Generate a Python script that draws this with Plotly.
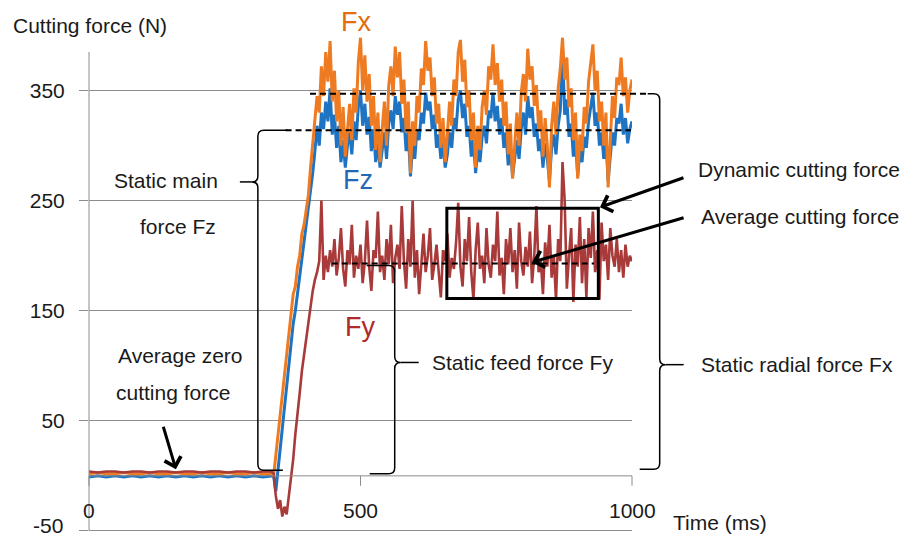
import plotly.graph_objects as go

# ---------------- data ----------------
t_flat = list(range(0, 337, 16))      # ms
t_ramp = list(range(340, 421, 4))     # ms
t_steady = list(range(424, 1001, 4))  # ms

fx_flat = [2, 3, 2, 2, 3, 2, 2, 3, 2, 2, 3, 2, 2, 3, 2, 2, 3, 2, 2, 3, 2, 2]
fz_flat = [-1, 0, -1, 0, -1, 0, -1, 0, -1, 0, -1, 0, -1, 0, -1, 0, -1, 0, -1, 0, -1, 0]
fy_flat = [4, 3, 4, 4, 3, 4, 4, 3, 4, 4, 3, 4, 4, 3, 4, 4, 3, 4, 4, 3, 4, 4]

fx_ramp = [0, 18, 40, 58, 72, 95, 110, 128, 145, 165, 172, 190, 200, 220, 228, 240, 255, 280, 300, 322, 345]
fz_ramp = [0, -14, 5, 25, 45, 60, 80, 100, 120, 138, 150, 165, 185, 200, 215, 225, 240, 255, 275, 295, 318]
fy_ramp = [2, -18, -30, -22, -37, -28, -35, -18, -5, 15, 38, 55, 75, 95, 110, 125, 140, 152, 168, 178, 185]

fx_steady = [
    330, 372, 345, 385, 358, 395,
    340, 368, 322, 350, 300, 335, 290, 318, 338, 305, 352, 330, 376,
    398, 350, 382, 340, 365, 318, 345, 296, 330, 285, 315, 340, 300, 355, 372, 345, 390,
    362, 385, 338, 360, 312, 340, 275, 322, 300, 345, 330, 370, 355, 395,
    368, 380, 345, 362, 320, 338, 298, 325, 285, 310, 340, 318, 360, 345, 385,
    396, 358, 378, 335, 350, 305, 330, 280, 318, 296, 335, 350, 328, 372, 360,
    392, 355, 375, 340, 360, 318, 340, 292, 320, 270, 305, 330, 300, 348, 365, 340,
    388, 360, 372, 336, 355, 315, 332, 290, 325, 300, 262, 318, 340, 310, 352, 370, 398,
    360, 380, 335, 352, 305, 330, 270, 310, 295, 335, 320, 358, 375,
    392, 350, 368, 322, 340, 300, 330, 262, 310, 345, 325, 362, 355,
    380, 345, 362, 330, 350, 360]

fz_steady = [
    300, 330, 315, 340, 322, 352,
    310, 328, 298, 318, 285, 305, 280, 300, 312, 292, 322, 305, 335,
    350, 318, 338, 310, 326, 295, 315, 285, 302, 280, 295, 312, 288, 320, 332, 315, 345,
    328, 340, 312, 325, 295, 312, 272, 300, 288, 315, 305, 330, 320, 348,
    332, 340, 315, 328, 298, 310, 288, 302, 280, 292, 312, 298, 325, 315, 342,
    350, 325, 338, 308, 318, 290, 305, 275, 298, 285, 308, 318, 302, 332, 325,
    348, 322, 336, 310, 325, 298, 312, 282, 300, 272, 290, 305, 288, 315, 330, 310,
    345, 325, 335, 308, 320, 295, 306, 280, 302, 288, 268, 298, 310, 292, 318, 332, 390,
    328, 342, 308, 320, 290, 305, 272, 295, 285, 308, 298, 322, 335,
    348, 318, 330, 300, 312, 288, 305, 268, 292, 312, 300, 325, 320,
    338, 310, 325, 302, 315, 322]

fy_steady = [
    195, 250, 178, 200, 185, 205,
    190, 215, 182, 198, 225, 188, 172, 205, 192, 228, 180, 200, 188,
    210, 175, 195, 232, 190, 168, 205, 198, 240, 185, 200, 178, 215, 192, 228, 175, 198,
    210, 188, 245, 195, 170, 215, 190, 250, 180, 205, 165, 198, 220, 185,
    200, 225, 178, 192, 210, 185, 162, 205, 195, 220, 180, 198, 188, 212, 248,
    190, 172, 215, 195, 235, 185, 160, 205, 230, 188, 200, 175, 225, 192, 180,
    210, 195, 240, 182, 198, 165, 215, 192, 225, 185, 205, 170, 230, 195, 182, 208,
    190, 222, 175, 200, 245, 185, 195, 165, 212, 190, 228, 180, 200, 160, 215, 195, 285,
    250, 170, 200, 225, 158, 210, 190, 235, 175, 215, 162, 225, 198,
    240, 185, 205, 160, 230, 195, 210, 178, 225, 200, 190, 215, 185,
    205, 180, 210, 190, 200, 195]

y_ticks = [-50, 50, 150, 250, 350]
x_ticks = [0, 500, 1000]

fx_mean, fz_mean, fy_mean = 347, 314, 193

# ---------------- layout constants ----------------
X0, X1 = 0, 1000
Y0, Y1 = -51, 405
W, H = 901, 537
ML, MR, MT, MB = 89, 269, 30, 5
PW, PH = W - ML - MR, H - MT - MB
kx = PW / (X1 - X0)
ky = PH / (Y1 - Y0)

def xp(ms):
    return (ms - X0) / (X1 - X0)

def yp(v):
    return (v - Y0) / (Y1 - Y0)

def pxp(px):
    return (px - ML) / PW

def pyp(py):
    return (H - MB - py) / PH

FONT = "Liberation Sans, Arial, sans-serif"
TXT = "#1a1a1a"
GRID = "#8c8c8c"
C_FX, C_FZ, C_FY = "#EE7B22", "#1E73C2", "#A83A3A"

t_all = t_flat + t_ramp + t_steady

fig = go.Figure()
fig.add_trace(go.Scatter(x=t_all, y=fz_flat + fz_ramp + fz_steady, mode="lines",
                         line=dict(color=C_FZ, width=3), name="Fz"))
fig.add_trace(go.Scatter(x=t_all, y=fx_flat + fx_ramp + fx_steady, mode="lines",
                         line=dict(color=C_FX, width=3), name="Fx"))
fig.add_trace(go.Scatter(x=t_all, y=fy_flat + fy_ramp + fy_steady, mode="lines",
                         line=dict(color=C_FY, width=2.6), name="Fy"))

shapes = []
# y axis line
shapes.append(dict(type="line", xref="paper", yref="paper", x0=xp(0), x1=xp(0),
                   y0=yp(-50), y1=yp(385), line=dict(color=GRID, width=1)))
# x axis line at zero and tick marks
shapes.append(dict(type="line", xref="paper", yref="paper", x0=xp(0), x1=xp(1000),
                   y0=yp(0), y1=yp(0), line=dict(color=GRID, width=1)))
for tv in x_ticks:
    shapes.append(dict(type="line", xref="paper", yref="paper", x0=xp(tv), x1=xp(tv),
                       y0=yp(0), y1=yp(-9), line=dict(color=GRID, width=1)))

# dashed mean lines
dash = dict(color="black", width=2, dash="6px,4px")
shapes.append(dict(type="line", xref="paper", yref="paper", x0=xp(407), x1=xp(1033),
                   y0=yp(fx_mean), y1=yp(fx_mean), line=dash))
shapes.append(dict(type="line", xref="paper", yref="paper", x0=xp(362), x1=xp(998),
                   y0=yp(fz_mean), y1=yp(fz_mean), line=dash))
shapes.append(dict(type="line", xref="paper", yref="paper", x0=xp(447), x1=xp(930),
                   y0=yp(fy_mean), y1=yp(fy_mean), line=dash))


def brace(xv, vt, vb, vm, d, l_top, l_bot, stub, r=6):
    """curly brace, vertical at ms xv, tip direction d (-1 left, +1 right)"""
    e = -d
    rx, ry = r / kx, r / ky
    def P(x, y):
        return f"{xp(x):.5f},{yp(y):.5f}"
    p = (f"M{P(xv + e*l_top/kx, vt)} L{P(xv + e*rx, vt)} "
         f"Q{P(xv, vt)} {P(xv, vt - ry)} L{P(xv, vm + ry)} "
         f"Q{P(xv, vm)} {P(xv + d*rx, vm)} Q{P(xv, vm)} {P(xv, vm - ry)} "
         f"L{P(xv, vb + ry)} Q{P(xv, vb)} {P(xv + e*rx, vb)} L{P(xv + e*l_bot/kx, vb)}")
    shapes.append(dict(type="path", xref="paper", yref="paper", path=p,
                       line=dict(color="black", width=1.5)))
    shapes.append(dict(type="line", xref="paper", yref="paper",
                       x0=xp(xv + d*rx), x1=xp(xv + d*(rx + stub/kx)),
                       y0=yp(vm), y1=yp(vm), line=dict(color="black", width=1.5)))

brace(311, fz_mean, 5, 267, -1, 30, 25, 12)
brace(563, 191, 2, 103, +1, 28, 25, 18)
brace(1051, fx_mean, 6, 101, +1, 12, 20, 18)

# dynamic force box
shapes.append(dict(type="rect", xref="paper", yref="paper", x0=xp(659), x1=xp(938),
                   y0=yp(161), y1=yp(243), line=dict(color="black", width=3)))

annotations = []

def text(s, px, py, size=21, color=TXT, xanchor="center"):
    annotations.append(dict(text=s, x=pxp(px), y=pyp(py), xref="paper", yref="paper",
                            showarrow=False, xanchor=xanchor, yanchor="middle",
                            font=dict(family=FONT, size=size, color=color)))

text("Cutting force (N)", 11, 25, xanchor="left")
text("Time (ms)", 671, 522, xanchor="left")
for tv in x_ticks:
    text(str(tv), ML + tv * kx, 510)
# bottom y tick label (kept inside the page)
text(str(y_ticks[0]), 65, 525, xanchor="right")
text("Fx", 356, 22, size=27, color="#E46C0A")
text("Fz", 358, 180, size=27, color="#2467B4")
text("Fy", 360, 327, size=27, color="#B0292B")
text("Static main", 166, 181)
text("force Fz", 178, 226)
text("Average zero", 180, 355)
text("cutting force", 173, 392)
text("Static feed force Fy", 522, 362)
text("Dynamic cutting force", 696, 169, xanchor="left")
text("Average cutting force", 699, 216, xanchor="left")
text("Static radial force Fx", 699, 364, xanchor="left")

def arrow(ms, v, ax, ay):
    annotations.append(dict(text="", x=xp(ms), y=yp(v), xref="paper", yref="paper",
                            showarrow=True, ax=ax, ay=ay, arrowhead=4, arrowsize=1.1,
                            arrowwidth=3, arrowcolor="black"))

arrow(941, 244, 85, -30)
arrow(816, 194, 153, -45)
arrow(160, 6, -13, -44)

fig.update_layout(
    width=W, height=H,
    margin=dict(l=ML, r=MR, t=MT, b=MB),
    paper_bgcolor="white", plot_bgcolor="white",
    showlegend=False,
    shapes=shapes, annotations=annotations,
    xaxis=dict(range=[X0, X1], showgrid=False, zeroline=False, showline=False,
               showticklabels=False, ticks=""),
    yaxis=dict(range=[Y0, Y1], tickvals=y_ticks,
               ticktext=[""] + [str(v) for v in y_ticks[1:]],
               showgrid=True, gridcolor=GRID, gridwidth=1, zeroline=False, showline=False,
               ticks="outside", ticklen=9, tickcolor=GRID, ticklabelstandoff=10,
               tickfont=dict(family=FONT, size=21, color=TXT)),
)

fig.write_html("out.html")
